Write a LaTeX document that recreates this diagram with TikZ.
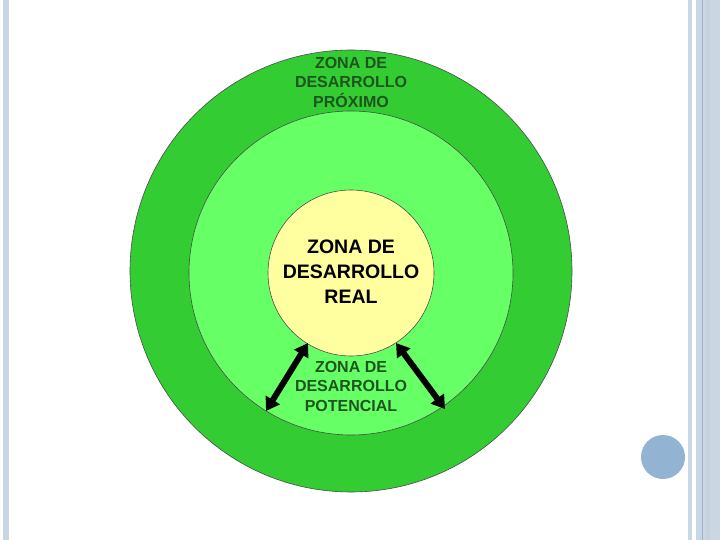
\documentclass[tikz,border=0pt]{standalone}
\usepackage{fontspec}
\setmainfont{Liberation Sans}
\usetikzlibrary{arrows.meta}
\definecolor{outerg}{HTML}{33CC33}
\definecolor{midg}{HTML}{66FF66}
\definecolor{innery}{HTML}{FFFFA0}
\definecolor{darkg}{HTML}{1E551E}
\definecolor{stripe}{HTML}{CAD7E3}
\definecolor{stripedk}{HTML}{9DB2C8}
\definecolor{dotblue}{HTML}{93B3D3}
\tikzset{
  zone/.style={circle, draw=black!70, line width=0.6pt, inner sep=0pt},
  lbl/.style={align=center, font=\bfseries, inner sep=0pt},
  dbl/.style={line width=6pt, {Triangle[length=13pt,width=16pt]}-{Triangle[length=13pt,width=16pt]}, black}
}
\begin{document}
\begin{tikzpicture}[x=1pt,y=-1pt]
\useasboundingbox (0,0) rectangle (720,540);
\fill[white] (0,0) rectangle (720,540);
% slide decorations
\fill[stripe] (3,0) rectangle (9,540);
\fill[stripe] (688,0) rectangle (692,540);
\fill[stripe] (696,0) rectangle (720,540);
\draw[stripedk, line width=0.6pt] (702,0) -- (702,540);
\fill[stripe!85!stripedk] (706,0) rectangle (710,540);
\node[circle, fill=dotblue, minimum size=44pt, inner sep=0pt] (dot) at (663,457) {};
% circles
\node[zone, fill=outerg, minimum size=442pt] (outer) at (351,271) {};
\node[zone, fill=midg, minimum size=324pt] (mid) at (351,273) {};
\node[zone, fill=innery, minimum size=166pt] (inner) at (351,273) {};
% labels
\node[lbl, font=\bfseries\fontsize{19.5}{25}\selectfont, text=black] (treal) at (351,272) {ZONA DE\\DESARROLLO\\REAL};
\node[lbl, font=\bfseries\fontsize{16}{19.5}\selectfont, text=darkg] (tprox) at (351,82) {ZONA DE\\DESARROLLO\\PRÓXIMO};
\node[lbl, font=\bfseries\fontsize{16}{19.5}\selectfont, text=darkg] (tpot) at (351,386) {ZONA DE\\DESARROLLO\\POTENCIAL};
% arrows
\coordinate (la) at (308,343);
\coordinate (lb) at (266,411);
\coordinate (ra) at (396,343);
\coordinate (rb) at (445,409);
\draw[dbl] (la) -- (lb);
\draw[dbl] (ra) -- (rb);
\end{tikzpicture}
\end{document}
